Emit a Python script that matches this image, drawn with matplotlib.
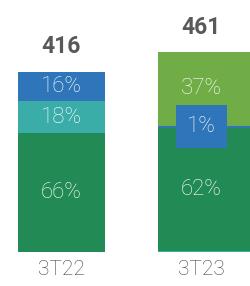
import matplotlib.pyplot as plt
import numpy as np

# data
periods = ['3T22', '3T23']
totals = [416, 461]
# stacked shares per bar, bottom to top
segs_22 = [66, 18, 16]
segs_23 = [0.5, 62, 1, 37]
labels_22 = ['66%', '18%', '16%']
labels_23 = ['', '62%', '1%', '37%']

c_green = '#228B55'
c_teal = '#3AADA9'
c_blue = '#2E75B9'
c_lgreen = '#70AD47'
colors_22 = [c_green, c_teal, c_blue]
colors_23 = [c_teal, c_green, c_blue, c_lgreen]

plt.rcParams['font.family'] = ['Roboto', 'DejaVu Sans']

fig = plt.figure(figsize=(2.51, 2.86), dpi=100)
ax = fig.add_axes([0, 34 / 286, 1, 252 / 286])

x = np.arange(len(periods))
widths = [0.62, 0.67]
px_per_unit = 0.432
ax.set_ylim(0, 252 / px_per_unit)
ax.set_xlim(-18 / 140, 233 / 140)

for i, (segs, labs, cols) in enumerate([(segs_22, labels_22, colors_22),
                                        (segs_23, labels_23, colors_23)]):
    bottom = 0
    for s, lab, col in zip(segs, labs, cols):
        h = totals[i] * s / 100
        ax.bar(x[i], h, width=widths[i], bottom=bottom, color=col,
               align='edge', linewidth=0)
        if lab:
            bb = None
            if s < 5:
                bb = dict(boxstyle='square,pad=0.5', facecolor=c_blue,
                          edgecolor='none')
            ax.text(x[i] + 0.31, bottom + h / 2, lab, ha='center', va='center',
                    color='white', fontsize=16, fontweight='light', bbox=bb)
        bottom += h
    ax.annotate(str(totals[i]), (x[i] + 0.31, totals[i]),
                xytext=(0, 18.5), textcoords='offset points',
                ha='center', va='center', fontsize=16.5, fontweight='bold',
                color='#595959')

ax.set_xticks(x + 0.31)
ax.set_xticklabels(periods, fontsize=15, fontweight='light', color='#404040')
ax.tick_params(axis='x', length=0, pad=6)
ax.set_yticks([])
for sp in ax.spines.values():
    sp.set_visible(False)

fig.savefig('out.png', dpi=100)
